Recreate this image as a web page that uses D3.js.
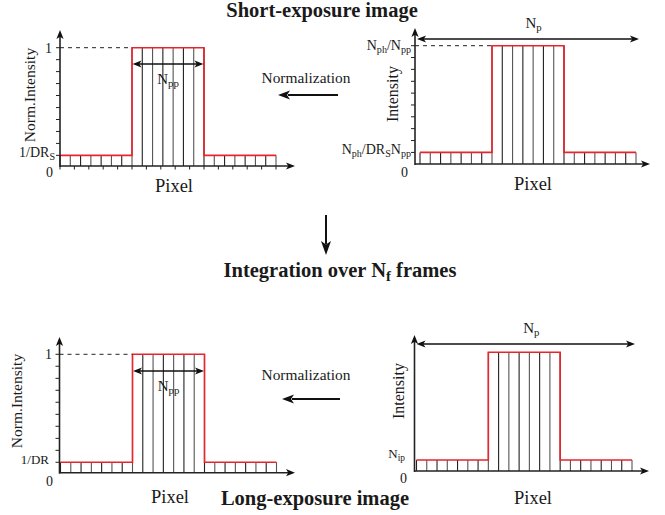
<!DOCTYPE html>
<html><head><meta charset="utf-8">
<script src="https://cdn.jsdelivr.net/npm/d3@7"></script>
<style>
body{margin:0;background:#fff}
svg{display:block}
text{font-family:"Liberation Serif","Times New Roman",Times,serif;fill:#1a1a1a}
</style></head>
<body><svg id="c" width="665" height="515"></svg>
<script>
// ---- data (per-pixel intensities, 21 pixels) ----
const shortNorm = [0.09,0.09,0.09,0.09,0.09,0.09,0.09, 1,1,1,1,1,1,1, 0.09,0.09,0.09,0.09,0.09,0.09,0.09];
const shortRaw  = [0.098,0.098,0.098,0.098,0.098,0.098,0.098, 1,1,1,1,1,1,1, 0.098,0.098,0.098,0.098,0.098,0.098,0.098];
const longNorm  = [0.088,0.088,0.088,0.088,0.088,0.088,0.088, 1,1,1,1,1,1,1, 0.088,0.088,0.088,0.088,0.088,0.088,0.088];
const longRaw   = [0.093,0.093,0.093,0.093,0.093,0.093,0.093, 1,1,1,1,1,1,1, 0.093,0.093,0.093,0.093,0.093,0.093,0.093];
const yTicksShortNorm = [0.09,0.191,0.292,0.393,0.494,0.596,0.697,0.798,0.899,1];
const yTicksShortRaw  = [0.098,0.198,0.299,0.399,0.499,0.599,0.699,0.8,0.9,1];
const yTicksLongNorm  = [0.088,0.189,0.29,0.392,0.493,0.595,0.696,0.797,0.899,1];
const xTicksShortNorm = [0,1.4,2.8,4.2,5.6,7,8.4,9.8,11.2,12.6,14,15.4,16.8,18.2,19.6,21];
const pulseStart = 7, pulseEnd = 14;

const svg = d3.select('#c');

function rich(t, parts){
  parts.forEach(p=>{
    const ts = t.append('tspan').text(p[0]);
    if(p[1]) ts.attr('font-size','0.72em').attr('baseline-shift','-28%');
  });
  return t;
}
function head(g, tx, ty, dx, dy, len, hw){
  const px=-dy, py=dx;
  const bx=tx-dx*len, by=ty-dy*len;
  const ix=tx-dx*len*0.75, iy=ty-dy*len*0.75;
  g.append('path').attr('d',`M${tx},${ty}L${bx+px*hw},${by+py*hw}L${ix},${iy}L${bx-px*hw},${by-py*hw}Z`)
   .attr('fill','#111');
}

function panel(cfg){
  const g = svg.append('g');
  const n = cfg.values.length;
  const x = d3.scaleLinear().domain([0,n]).range([cfg.bx0,cfg.bx1]);
  const y = d3.scaleLinear().domain([0,1]).range([cfg.y0,cfg.y1]);
  for(let i=0;i<=n;i++){
    const l = i===0?cfg.values[0]:(i===n?cfg.values[n-1]:Math.max(cfg.values[i-1],cfg.values[i]));
    g.append('line').attr('x1',x(i)).attr('x2',x(i)).attr('y1',cfg.y0).attr('y2',y(l))
     .attr('stroke',(i%2)?'#555':'#222').attr('stroke-width',1.1);
  }
  const line = d3.line().curve(d3.curveStepAfter).x(d=>x(d[0])).y(d=>y(d[1]));
  const pts = cfg.values.map((v,i)=>[i,v]); pts.push([n,cfg.values[n-1]]);
  g.append('path').attr('d',line(pts)).attr('fill','none').attr('stroke','#e8242c').attr('stroke-width',1.6);
  if(cfg.dashed){
    g.append('line').attr('x1',cfg.ax).attr('x2',x(pulseStart)).attr('y1',y(1)).attr('y2',y(1))
     .attr('stroke','#222').attr('stroke-width',1).attr('stroke-dasharray','4,4');
  }
  g.append('line').attr('x1',cfg.ax).attr('x2',cfg.xTip-6).attr('y1',cfg.y0).attr('y2',cfg.y0).attr('stroke','#222').attr('stroke-width',1.6);
  g.append('line').attr('x1',cfg.ax).attr('x2',cfg.ax).attr('y1',cfg.y0+1).attr('y2',cfg.yTip+6).attr('stroke','#222').attr('stroke-width',1.6);
  head(g,cfg.xTip,cfg.y0,1,0,9,3.6);
  head(g,cfg.ax,cfg.yTip,0,-1,9,3.6);
  if(cfg.yTicks){
    cfg.yTicks.forEach(t=>g.append('line').attr('x1',cfg.ax-4).attr('x2',cfg.ax).attr('y1',y(t)).attr('y2',y(t)).attr('stroke','#222').attr('stroke-width',1));
  }
  if(cfg.xTicks){
    cfg.xTicks.forEach(t=>g.append('line').attr('x1',x(t)).attr('x2',x(t)).attr('y1',cfg.y0).attr('y2',cfg.y0+3.5).attr('stroke','#222').attr('stroke-width',1));
  }
  cfg.tickLabels.forEach(tl=>{
    const t = g.append('text').attr('x',tl.x).attr('y',(tl.v===0?cfg.y0+tl.dy:y(tl.v)+tl.dy))
      .attr('text-anchor','end').attr('font-size',tl.fs||14);
    rich(t,tl.parts);
  });
  g.append('text').attr('transform',`translate(${cfg.ylx},${cfg.yly}) rotate(-90)`).attr('text-anchor','middle')
   .attr('font-size',cfg.ylfs).text(cfg.yLabel);
  g.append('text').attr('x',cfg.pxx).attr('y',cfg.pxy).attr('text-anchor','middle').attr('font-size',18.5).text('Pixel');
  if(cfg.npp){
    const ay = cfg.npp;
    g.append('line').attr('x1',x(pulseStart)+6).attr('x2',x(pulseEnd)-6).attr('y1',ay).attr('y2',ay).attr('stroke','#111').attr('stroke-width',1.4);
    head(g,x(pulseStart)+0.5,ay,-1,0,9,3.6); head(g,x(pulseEnd)-0.5,ay,1,0,9,3.6);
    rich(g.append('text').attr('x',(x(pulseStart)+x(pulseEnd))/2).attr('y',ay+20).attr('text-anchor','middle').attr('font-size',15),[['N'],['pp',1]]);
  }
  if(cfg.np){
    const ay = cfg.np;
    g.append('line').attr('x1',cfg.ax+6).attr('x2',x(n)-1).attr('y1',ay).attr('y2',ay).attr('stroke','#111').attr('stroke-width',1.4);
    head(g,cfg.ax+2,ay,-1,0,9,3.6); head(g,x(n)+3,ay,1,0,9,3.6);
    rich(g.append('text').attr('x',(cfg.ax+x(n))/2+8).attr('y',ay-11).attr('text-anchor','middle').attr('font-size',15),[['N'],['p',1]]);
  }
}

panel({values:shortNorm,bx0:60,bx1:276,ax:60,xTip:295,y0:166,y1:47.7,yTip:30,yTicks:yTicksShortNorm,xTicks:xTicksShortNorm,dashed:true,
  tickLabels:[{v:1,x:52,dy:5,parts:[['1']]},{v:0.09,x:55,dy:2,parts:[['1/DR'],['S',1]]},{v:0,x:53,dy:11,parts:[['0']]}],
  yLabel:'Norm.Intensity',ylfs:15.5,ylx:35,yly:95,pxx:174,pxy:192,npp:64});
panel({values:shortRaw,bx0:420,bx1:636,ax:415,xTip:650,y0:164,y1:45.7,yTip:28,yTicks:yTicksShortRaw,dashed:true,
  tickLabels:[{v:1,x:411,dy:4,fs:14,parts:[['N'],['ph',1],['/N'],['pp',1]]},{v:0.098,x:411,dy:2,fs:14,parts:[['N'],['ph',1],['/DR'],['S',1],['N'],['pp',1]]},{v:0,x:408,dy:13,parts:[['0']]}],
  yLabel:'Intensity',ylfs:16,ylx:398,yly:94,pxx:533,pxy:190,np:39});
panel({values:longNorm,bx0:60.5,bx1:276.5,ax:59.5,xTip:295,y0:472.7,y1:354.3,yTip:337,yTicks:yTicksLongNorm,dashed:true,
  tickLabels:[{v:1,x:52,dy:5,parts:[['1']]},{v:0.088,x:49,dy:2,fs:13,parts:[['1/DR']]},{v:0,x:53,dy:13,parts:[['0']]}],
  yLabel:'Norm.Intensity',ylfs:15.5,ylx:22,yly:401,pxx:170,pxy:503,npp:371});
panel({values:longRaw,bx0:416.5,bx1:632,ax:414.5,xTip:649,y0:471,y1:352.3,yTip:335,
  tickLabels:[{v:0.093,x:405,dy:-2,fs:13,parts:[['N'],['ip',1]]},{v:0,x:407,dy:12,parts:[['0']]}],
  yLabel:'Intensity',ylfs:16,ylx:404,yly:391,pxx:533,pxy:504,np:344});

svg.append('text').attr('x',322).attr('y',17).attr('text-anchor','middle').attr('font-weight','bold').attr('font-size',20.5).text('Short-exposure image');
svg.append('text').attr('x',315).attr('y',505).attr('text-anchor','middle').attr('font-weight','bold').attr('font-size',20.5).text('Long-exposure image');
rich(svg.append('text').attr('x',340).attr('y',277).attr('text-anchor','middle').attr('font-weight','bold').attr('font-size',20.5),[['Integration over N'],['f',1],['  frames']]);
svg.append('text').attr('x',306).attr('y',83).attr('text-anchor','middle').attr('font-size',15.4).text('Normalization');
svg.append('text').attr('x',306).attr('y',380).attr('text-anchor','middle').attr('font-size',15.4).text('Normalization');
const fg = svg.append('g');
fg.append('line').attr('x1',288).attr('x2',338).attr('y1',95).attr('y2',95).attr('stroke','#111').attr('stroke-width',2);
head(fg,278,95,-1,0,12,4.5);
fg.append('line').attr('x1',292).attr('x2',340).attr('y1',399).attr('y2',399).attr('stroke','#111').attr('stroke-width',2);
head(fg,282,399,-1,0,12,4.5);
fg.append('line').attr('x1',326).attr('x2',326).attr('y1',215).attr('y2',244).attr('stroke','#111').attr('stroke-width',2);
head(fg,326,255,0,1,14,5);
</script></body></html>
